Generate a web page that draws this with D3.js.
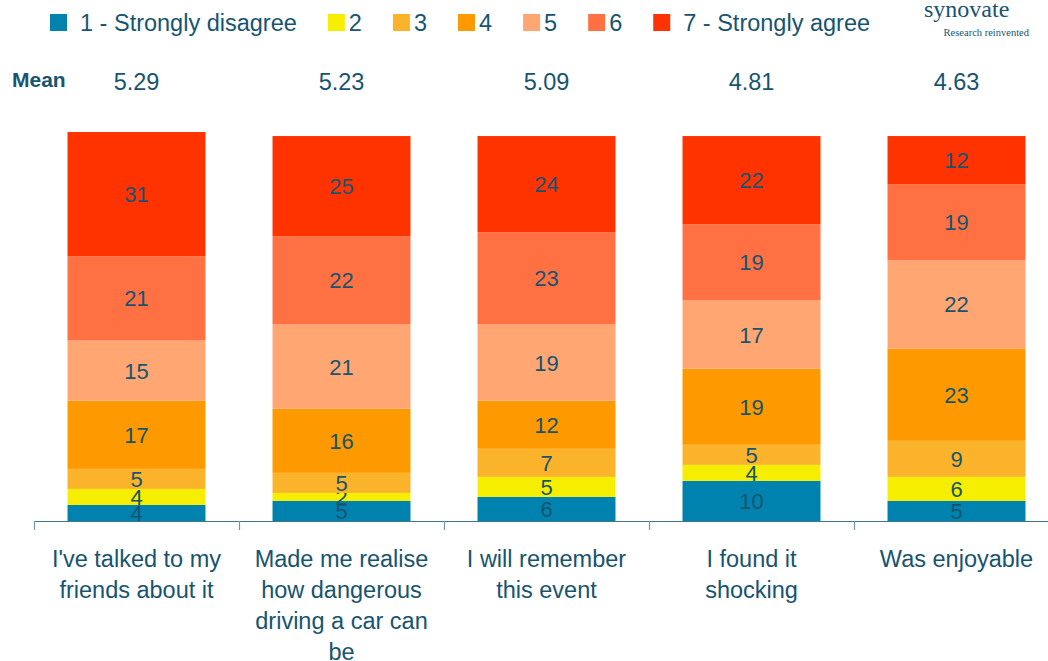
<!DOCTYPE html>
<html>
<head>
<meta charset="utf-8">
<script src="https://cdn.jsdelivr.net/npm/d3@7"></script>
<style>
  body { margin: 0; background: #fff; }
  svg { display: block; font-family: "Liberation Sans", Arial, sans-serif; }
</style>
</head>
<body>
<div class="chart"></div>
<script>
//Categories along the bottom
const categories = [
    ["I've talked to my", "friends about it"],
    ["Made me realise", "how dangerous", "driving a car can", "be"],
    ["I will remember", "this event"],
    ["I found it", "shocking"],
    ["Was enjoyable"]
];

//Mean score above each bar
const means = ["5.29", "5.23", "5.09", "4.81", "4.63"];

//Legend labels, bottom to top of the stack
const levels = ["1 - Strongly disagree", "2", "3", "4", "5", "6", "7 - Strongly agree"];

//Percentages for each level, one value per category
const level1 = [4, 5, 6, 10, 5];
const level2 = [4, 2, 5, 4, 6];
const level3 = [5, 5, 7, 5, 9];
const level4 = [17, 16, 12, 19, 23];
const level5 = [15, 21, 19, 17, 22];
const level6 = [21, 22, 23, 19, 19];
const level7 = [31, 25, 24, 22, 12];

const colors = ["#0082ae", "#f5ee00", "#fbb32b", "#ff9900", "#ffa672", "#ff7143", "#ff3300"];
const textColor = "#165470";

let WIDTH = 1048,
    HEIGHT = 661;

let svg = d3.select(".chart")
    .append("svg")
    .attr("width", WIDTH)
    .attr("height", HEIGHT);

//Build a table the stack layout can use
const series = [level1, level2, level3, level4, level5, level6, level7];
const table = categories.map((c, i) => {
    let row = { index: i };
    levels.forEach((l, j) => row[l] = series[j][i]);
    return row;
});
const stacked = d3.stack().keys(levels)(table);

//Scales
let xScale = d3.scaleBand()
    .domain(d3.range(categories.length))
    .range([34, 1059])
    .paddingInner(0.327)
    .paddingOuter(0.1635);

let yScale = d3.scaleLinear().domain([0, 100]).range([521, 120]);

let colorScale = d3.scaleOrdinal().domain(levels).range(colors);

//Bars
let layers = svg.append("g")
    .selectAll("g")
    .data(stacked)
    .enter()
    .append("g")
    .style("fill", d => colorScale(d.key));

layers.selectAll("rect")
    .data(d => d)
    .enter()
    .append("rect")
    .attr("x", d => xScale(d.data.index))
    .attr("y", d => yScale(d[1]))
    .attr("width", xScale.bandwidth())
    .attr("height", d => yScale(d[0]) - yScale(d[1]));

//Value labels in the middle of each segment
layers.selectAll("text")
    .data(d => d)
    .enter()
    .append("text")
    .attr("x", d => xScale(d.data.index) + xScale.bandwidth() / 2)
    .attr("y", d => yScale((d[0] + d[1]) / 2) + 8)
    .attr("text-anchor", "middle")
    .attr("font-size", "22px")
    .style("fill", textColor)
    .text(d => d[1] - d[0]);

//Axis line with ticks between the categories
let axis = svg.append("g");
axis.append("line")
    .attr("x1", xScale.range()[0])
    .attr("x2", WIDTH)
    .attr("y1", yScale(0) + 0.5)
    .attr("y2", yScale(0) + 0.5)
    .style("stroke", "#3f7690")
    .style("stroke-width", 1.2);

axis.selectAll(".tick")
    .data(d3.range(categories.length + 1))
    .enter()
    .append("line")
    .attr("x1", i => xScale.range()[0] + i * xScale.step() + 0.5)
    .attr("x2", i => xScale.range()[0] + i * xScale.step() + 0.5)
    .attr("y1", yScale(0))
    .attr("y2", yScale(0) + 9)
    .style("stroke", "#6f97a9")
    .style("stroke-width", 1.2);

//Category labels
svg.append("g")
    .selectAll("text")
    .data(categories)
    .enter()
    .append("text")
    .attr("text-anchor", "middle")
    .attr("font-size", "23.5px")
    .style("fill", textColor)
    .each(function(lines, i) {
        d3.select(this)
          .selectAll("tspan")
          .data(lines)
          .enter()
          .append("tspan")
          .attr("x", xScale(i) + xScale.bandwidth() / 2)
          .attr("y", (d, k) => 567 + k * 31)
          .text(d => d);
    });

//Means row
svg.append("text")
    .attr("x", 12)
    .attr("y", 87)
    .attr("font-size", "21px")
    .attr("font-weight", "bold")
    .style("fill", textColor)
    .text("Mean");

svg.append("g")
    .selectAll("text")
    .data(means)
    .enter()
    .append("text")
    .attr("x", (d, i) => xScale(i) + xScale.bandwidth() / 2)
    .attr("y", 90)
    .attr("text-anchor", "middle")
    .attr("font-size", "23.5px")
    .style("fill", textColor)
    .text(d => d);

//Legend, laid out left to right by measured text width
let legend = svg.append("g");
let lx = 50;
levels.forEach((l, i) => {
    legend.append("rect")
        .attr("x", lx)
        .attr("y", 14)
        .attr("width", 17)
        .attr("height", 17)
        .style("fill", colorScale(l));
    lx += 17 + (l.length > 1 ? 13 : 4);
    let t = legend.append("text")
        .attr("x", lx)
        .attr("y", 31)
        .attr("font-size", "23.5px")
        .style("fill", textColor)
        .text(l);
    lx += t.node().getComputedTextLength() + 31;
});

//Synovate logo text
svg.append("text")
    .attr("x", 924)
    .attr("y", 17)
    .attr("font-family", "'Liberation Serif', 'Times New Roman', serif")
    .attr("font-size", "24px")
    .style("fill", textColor)
    .text("synovate");

svg.append("text")
    .attr("x", 1029)
    .attr("y", 36)
    .attr("text-anchor", "end")
    .attr("font-family", "'Liberation Serif', 'Times New Roman', serif")
    .attr("font-size", "10.5px")
    .style("fill", textColor)
    .text("Research reinvented");
</script>
</body>
</html>
